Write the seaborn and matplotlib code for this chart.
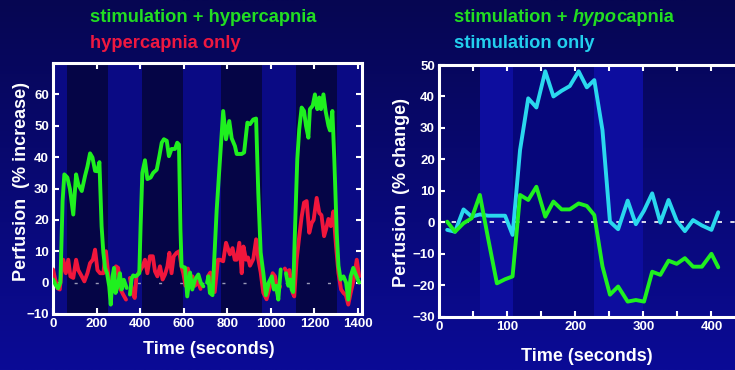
import numpy as np
import pandas as pd
import matplotlib
matplotlib.use("Agg")
import matplotlib.pyplot as plt
import seaborn as sns
from matplotlib.ticker import MultipleLocator

# ---------------- Left panel data (stimulation + hypercapnia / hypercapnia only) ----------
green_seg = [1]*34 + [2]*31 + [3]*30 + [4]*34
green_time = [0, 12, 23, 34, 44, 52, 66, 78, 93, 106, 116, 132, 147, 158, 170, 181, 193, 203, 213, 223,
              231, 239, 248, 258, 265, 273, 280, 287, 297, 307, 315, 325, 338, 338,
              353, 361, 368, 380, 396, 402, 410, 422, 433, 448, 460, 476, 488, 499, 509, 522, 532, 544,
              560, 570, 578, 585, 590, 606, 616, 629, 639, 652, 667, 678, 690,
              707, 713, 720, 732, 751, 766, 781, 794, 809, 820, 835, 843, 855, 866, 877, 892, 904, 919,
              932, 942, 953, 965, 977, 990, 1004, 1014, 1024, 1034, 1045, 1045,
              1069, 1080, 1088, 1095, 1102, 1111, 1121, 1130, 1141, 1152, 1161, 1172, 1179, 1192, 1202,
              1213, 1222, 1230, 1241, 1251, 1264, 1271, 1282, 1291, 1302, 1310, 1320, 1333, 1345, 1355,
              1366, 1378, 1393, 1405]
green_pct = [1, -0.7, -1.8, 0, 26, 34.5, 33.5, 29.7, 21.7, 34.5, 31.3, 29.2, 34, 37, 41.2, 39.9, 35.6, 35.5, 38.4, 18,
             9.6, 4.7, 3, -1.2, -7, 1.9, 4.7, -3.3, -1, 3, -2.2, 0.9, -1.7, -1.7,
             -3.8, 1.3, 2.3, 2, 3, 18, 35, 39, 33, 33.5, 35, 36, 40.3, 44.6, 45.7, 45.2, 40.3, 42.6,
             42.6, 44.6, 44, 17, 5.2, 4.8, -4.4, 3.2, -2.2, 1, 2.6, 0, -1.2,
             0, 2, -3.3, -4, 23, 39, 54.7, 45.7, 51.5, 46, 43.5, 41, 41, 41, 41.5, 51, 50.5, 52,
             52.3, 28.7, 9.6, 3.2, -4, 0, 2, -2.2, -1, -5.4, 4.2, 4.2,
             3, -1, 1, -2.2, -3, 18, 39.3, 48.9, 55.8, 54.7, 50, 46.2, 55.3, 56.4, 60,
             55.3, 59, 55.3, 60, 54.7, 50, 48.5, 54.7, 39.2, 16, 5.4, 1, 2, 0, -5.4,
             2, 4.7, 2, 0]

red_seg = [1]*30 + [2]*30 + [3]*30 + [4]*31
red_time = [0, 10, 21, 31, 38, 47, 59, 70, 80, 93, 106, 116, 132, 144, 158, 170, 183, 193, 204, 216,
            231, 243, 254, 265, 277, 289, 299, 310, 322, 335,
            353, 365, 375, 383, 397, 411, 422, 433, 445, 458, 468, 479, 491, 503, 514, 525, 534, 544,
            554, 567, 579, 590, 598, 608, 619, 630, 640, 652, 665, 677,
            711, 722, 732, 742, 757, 766, 781, 794, 804, 812, 824, 834, 843, 855, 866, 874, 886, 895,
            904, 919, 932, 942, 953, 965, 980, 996, 1008, 1019, 1030, 1042,
            1064, 1075, 1085, 1100, 1107, 1118, 1130, 1141, 1152, 1164, 1176, 1187, 1196, 1210, 1222,
            1232, 1244, 1253, 1264, 1275, 1287, 1299, 1310, 1322, 1333, 1344, 1355, 1366, 1380, 1394, 1405]
red_pct = [4.2, 1, -1.8, -2.2, 3, 7.3, 3, 7.3, 2, 1.5, 7.3, 4, 2, 0.4, 3, 6.2, 7.3, 10.5, 4, 3,
           3, 10, 2, -2.2, -1.2, 5.2, 4.7, -2.2, -3.8, -5.4,
           1.5, -3.3, -4.9, 2, 3.5, 5.2, 7.3, 3, 8.4, 8.4, 3.6, 2, 5.2, 1, 2.6, 5.2, 9.5, 3,
           8.4, 9.5, 10, 5, 3, -1, 4.5, 1, 2, -1, 0.5, -2,
           2, 3.2, -2, -3, 7.3, 7.3, 6.8, 12.7, 10.6, 9, 11, 7.3, 7.3, 12.7, 3, 11.5, 7.3, 8,
           5.4, 7.5, 13.8, 7.5, 3.3, -3.2, -5.3, -1.2, 3, 2, -3.3, -1.2,
           4.5, 3, 4, -3.3, -4.4, 7.3, 14.7, 21, 25.5, 26, 15.9, 19, 20, 27, 22.2,
           21.5, 14.8, 17, 20.3, 18, 22.7, 11.6, 3, -2.2, -3.3, -4, -7, -3.3, 1, 7.3, 2]

dark_bands_left = [(64, 254), (410, 595), (773, 960), (1117, 1302)]

# ---------------- Right panel data (stimulation + hypocapnia / stimulation only) ----------
t_right = [12, 23.5, 36, 48, 60, 72, 85, 97, 108, 119, 131, 143, 156, 168, 180, 192, 205, 217,
           228, 240, 251, 263, 277, 289, 301, 313, 325, 337, 349, 361, 373, 386, 400, 410]
stim_only = [-2.4, -3, 4.1, 1.8, 2.5, 2.1, 2.1, 2.1, -4, 23, 39.4, 36.5, 48, 40, 41.8, 43.3, 48, 42.9,
             45.2, 29.3, 0.2, -2.2, 6.9, -0.6, 3.7, 9.2, -0.1, 7.1, 0.5, -2.8, 0.7, -1, -2.4, 3.2]
stim_hypo = [0.2, -3, -0.3, 1.3, 8.7, -5, -19.4, -18.1, -17.2, 8.7, 7.1, 11.3, 1.8, 6.6, 4.1, 4.1, 6, 5.2,
             2.3, -14, -23, -20.4, -25.2, -24.7, -25.2, -15.7, -16.7, -12.2, -13.2, -11.4, -14.1, -14.1, -10, -14.3]

bands_right = [(60, 108, "#0d0d9e"), (108, 228, "#06067a"), (228, 300, "#0d0d9e")]

GREEN = "#1ff01f"
RED = "#f0163c"
CYAN = "#2ad8ee"
WHITE = "white"

sns.set_theme(style="white")
plt.rcParams["font.family"] = ["Liberation Sans", "DejaVu Sans"]
plt.rcParams["font.weight"] = "bold"

W, H = 735, 370
fig = plt.figure(figsize=(W / 100, H / 100), dpi=100)

# gradient background
bg = fig.add_axes([0, 0, 1, 1], zorder=-10)
top = np.array([6, 6, 82]) / 255
bot = np.array([11, 11, 150]) / 255
g = np.linspace(0, 1, 256)[:, None]
grad = top[None, None, :] * (1 - g[..., None]) + bot[None, None, :] * g[..., None]
grad = np.repeat(grad, 2, axis=1)
bg.imshow(grad, aspect="auto", extent=[0, 1, 0, 1], origin="upper")
bg.set_axis_off()

# ---------------- Left axes ----------------
ax1 = fig.add_axes([53 / W, 1 - 314 / H, 309 / W, 251 / H])
ax1.set_facecolor("#0a0a84")
for a, b in dark_bands_left:
    ax1.axvspan(a, b, color="#050546", lw=0, zorder=0)
ax1.axhline(0, color="#9a9ab8", lw=1.0, dashes=(2.2, 13), zorder=1)

dfg = pd.DataFrame({"t": green_time, "v": green_pct, "seg": green_seg})
dfr = pd.DataFrame({"t": red_time, "v": red_pct, "seg": red_seg})
sns.lineplot(data=dfr, x="t", y="v", units="seg", estimator=None, sort=False,
             color=RED, lw=2.8, ax=ax1, zorder=3)
sns.lineplot(data=dfg, x="t", y="v", units="seg", estimator=None, sort=False,
             color=GREEN, lw=2.8, ax=ax1, zorder=4)
ax1.set_xlim(0, 1418)
ax1.set_ylim(-10, 70)
ax1.set_xticks(range(0, 1401, 200))
ax1.set_yticks(range(-10, 61, 10))
ax1.tick_params(direction="in", top=True, right=True, bottom=True, left=True,
                colors=WHITE, length=4, width=1.5, labelsize=9.5, pad=3)
for lab in ax1.get_xticklabels() + ax1.get_yticklabels():
    lab.set_fontweight("bold")
for s in ax1.spines.values():
    s.set_color(WHITE)
    s.set_linewidth(2.2)
ax1.set_xlabel("Time (seconds)", color=WHITE, fontsize=13, fontweight="bold")
ax1.set_ylabel("Perfusion  (% increase)", color=WHITE, fontsize=13, fontweight="bold")
ax1.xaxis.set_label_coords(0.505, -0.108)
ax1.yaxis.set_label_coords(-0.075, 0.526)

# ---------------- Right axes ----------------
ax2 = fig.add_axes([439 / W, 1 - 316.7 / H, 306.5 / W, 251.7 / H])
ax2.set_facecolor("none")
ax2.patch.set_alpha(0)
for a, b, c in bands_right:
    ax2.axvspan(a, b, color=c, lw=0, zorder=0)
ax2.axhline(0, color=WHITE, lw=1.2, dashes=(2.6, 5.0), zorder=2)
dfr2 = pd.DataFrame({"t": t_right, "only": stim_only, "hypo": stim_hypo})
sns.lineplot(data=dfr2, x="t", y="only", color=CYAN, lw=2.8, ax=ax2, zorder=3)
sns.lineplot(data=dfr2, x="t", y="hypo", color=GREEN, lw=2.8, ax=ax2, zorder=4)
ax2.set_xlim(0, 450)
ax2.set_ylim(-30, 50)
ax2.xaxis.set_major_locator(MultipleLocator(100))
ax2.xaxis.set_minor_locator(MultipleLocator(50))
ax2.set_yticks(range(-30, 51, 10))
ax2.tick_params(which="both", direction="in", top=True, right=False, bottom=True, left=True,
                colors=WHITE, length=4, width=1.5, labelsize=9.5, pad=3)
for lab in ax2.get_xticklabels() + ax2.get_yticklabels():
    lab.set_fontweight("bold")
for name, s in ax2.spines.items():
    s.set_color(WHITE)
    s.set_linewidth(2.2)
ax2.spines["right"].set_visible(False)
ax2.set_xlabel("Time (seconds)", color=WHITE, fontsize=13, fontweight="bold")
ax2.set_ylabel("Perfusion  (% change)", color=WHITE, fontsize=13, fontweight="bold")
ax2.xaxis.set_label_coords(0.482, -0.124)
ax2.yaxis.set_label_coords(-0.094, 0.495)

# ---------------- Titles ----------------
TG = "#22dd22"
TR = "#ee1840"
TC = "#22cfee"
fs = 13.2
fig.text(90 / W, 1 - 18 / H, "stimulation + hypercapnia", color=TG, fontsize=fs,
         fontweight="bold", va="center", ha="left")
fig.text(90 / W, 1 - 43 / H, "hypercapnia only", color=TR, fontsize=fs,
         fontweight="bold", va="center", ha="left")

renderer = fig.canvas.get_renderer()
x0 = 454 / W
y0 = 1 - 18 / H
parts = [("stimulation + ", "normal"), ("hypo", "italic"), ("capnia", "normal")]
for txt, style in parts:
    t = fig.text(x0, y0, txt, color=TG, fontsize=fs, fontweight="bold", fontstyle=style,
                 va="center", ha="left")
    bb = t.get_window_extent(renderer=renderer)
    x0 += bb.width / fig.bbox.width
fig.text(454 / W, 1 - 43 / H, "stimulation only", color=TC, fontsize=fs,
         fontweight="bold", va="center", ha="left")

fig.savefig("out.png", dpi=100)
